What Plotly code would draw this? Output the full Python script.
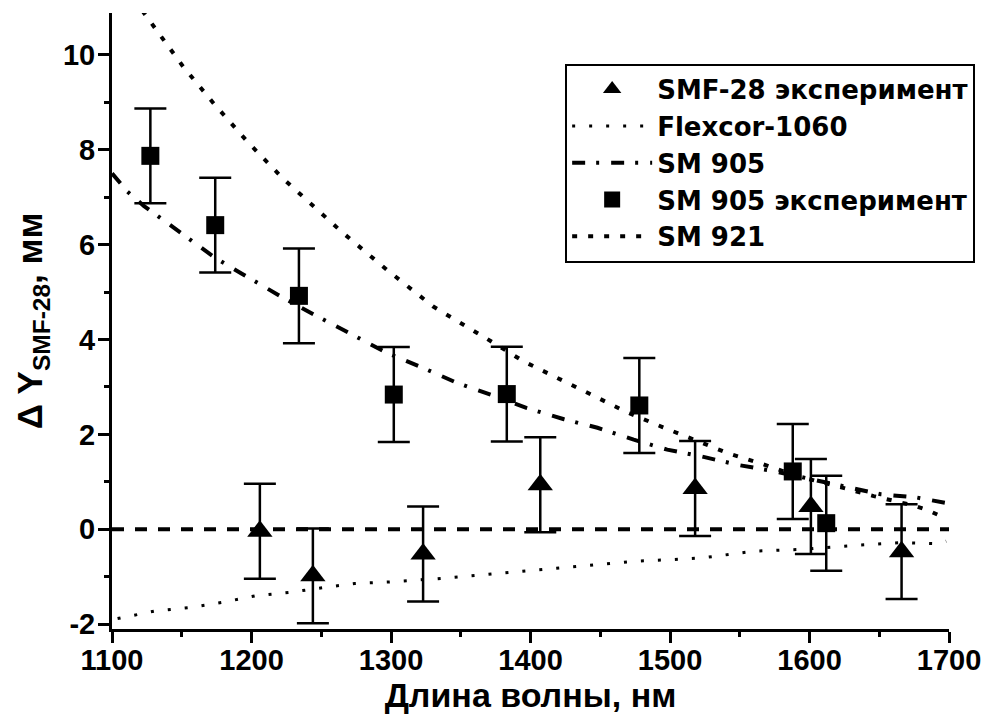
import plotly.graph_objects as go

# SM 905 experiment (squares)
sm905_exp_x = [1127.5, 1174, 1234, 1302, 1383, 1478, 1588, 1612]
sm905_exp_y = [7.87, 6.41, 4.92, 2.84, 2.85, 2.61, 1.22, 0.13]
sm905_exp_err = [1.0, 1.0, 1.0, 1.0, 1.0, 1.0, 1.0, 1.0]

# SMF-28 experiment (triangles)
smf28_exp_x = [1206, 1244, 1323, 1407, 1518, 1601, 1666]
smf28_exp_y = [-0.04, -0.98, -0.52, 0.94, 0.86, 0.48, -0.47]
smf28_exp_err = [1.0, 1.0, 1.0, 1.0, 1.0, 1.0, 1.0]

# SM 921 calculated curve
sm921_x = [1115, 1124, 1151, 1173, 1197, 1223, 1247, 1265, 1297, 1330, 1369, 1395,
           1431, 1469, 1495, 1512, 1541, 1567, 1591, 1612, 1646, 1675, 1685, 1697]
sm921_y = [11.2, 10.84, 9.75, 8.97, 8.17, 7.38, 6.75, 6.26, 5.47, 4.70, 4.01, 3.54,
           3.02, 2.47, 2.15, 1.95, 1.61, 1.37, 1.12, 0.97, 0.70, 0.50, 0.40, 0.24]

# SM 905 calculated curve
sm905_x = [1100, 1111, 1123, 1136, 1149, 1161, 1174, 1194, 1225, 1247, 1278, 1297,
           1323, 1347, 1374, 1397, 1424, 1448, 1474, 1498, 1522, 1550, 1574, 1603,
           1622, 1651, 1677, 1699]
sm905_y = [7.50, 7.12, 6.81, 6.53, 6.25, 6.00, 5.72, 5.37, 4.84, 4.49, 4.00, 3.72,
           3.40, 3.09, 2.81, 2.56, 2.32, 2.14, 1.89, 1.68, 1.54, 1.35, 1.23, 1.04,
           0.91, 0.74, 0.67, 0.55]

# Flexcor-1060 calculated curve
flex_x = [1104, 1131, 1155, 1179, 1203, 1227, 1251, 1274, 1298, 1333, 1369, 1405,
          1441, 1476, 1500, 1524, 1560, 1596, 1632, 1666, 1690, 1698]
flex_y = [-1.88, -1.72, -1.65, -1.54, -1.40, -1.33, -1.23, -1.14, -1.11, -1.04, -0.95, -0.86,
          -0.76, -0.67, -0.64, -0.60, -0.46, -0.42, -0.34, -0.28, -0.30, -0.25]

# SMF-28 reference (zero line)
ref_x = [1100, 1700]
ref_y = [0, 0]

# tick labels
x_tickvals = [1100, 1200, 1300, 1400, 1500, 1600, 1700]
x_ticktext = ["1100", "1200", "1300", "1400", "1500", "1600", "1700"]
y_tickvals = [-2, 0, 2, 4, 6, 8, 10]
y_ticktext = ["-2", "0", "2", "4", "6", "8", "10"]

FONT = "Liberation Sans, Arial, sans-serif"
LEGEND_FONT = "DejaVu Sans, Liberation Sans, sans-serif"

fig = go.Figure()

fig.add_trace(go.Scatter(x=ref_x, y=ref_y, mode="lines", showlegend=False,
                         line=dict(color="black", width=4, dash="12px,11px")))
fig.add_trace(go.Scatter(x=flex_x, y=flex_y, mode="lines", name="Flexcor-1060", legendrank=2,
                         line=dict(color="black", width=3, dash="3px,14px")))
fig.add_trace(go.Scatter(x=sm905_x, y=sm905_y, mode="lines", name="SM 905", legendrank=3,
                         line=dict(color="black", width=4, dash="13px,11px,3px,12px")))
fig.add_trace(go.Scatter(x=sm921_x, y=sm921_y, mode="lines", name="SM 921", legendrank=5,
                         line=dict(color="black", width=4, dash="5px,11px")))

# error bars (no legend)
fig.add_trace(go.Scatter(x=sm905_exp_x, y=sm905_exp_y, mode="markers", showlegend=False,
                         marker=dict(size=1, opacity=0),
                         error_y=dict(type="data", array=sm905_exp_err, color="black",
                                      thickness=2.5, width=16)))
fig.add_trace(go.Scatter(x=smf28_exp_x, y=smf28_exp_y, mode="markers", showlegend=False,
                         marker=dict(size=1, opacity=0),
                         error_y=dict(type="data", array=smf28_exp_err, color="black",
                                      thickness=2.5, width=16)))

fig.add_trace(go.Scatter(x=smf28_exp_x, y=smf28_exp_y, mode="markers",
                         name="SMF-28 эксперимент", legendrank=1,
                         marker=dict(symbol="triangle-up", size=22, color="black")))
fig.add_trace(go.Scatter(x=sm905_exp_x, y=sm905_exp_y, mode="markers",
                         name="SM 905 эксперимент", legendrank=4,
                         marker=dict(symbol="square", size=18, color="black")))

axis_common = dict(
    showline=True, linecolor="black", linewidth=3,
    ticks="outside", ticklen=11, tickwidth=3, tickcolor="black",
    showgrid=False, zeroline=False, mirror=False,
    tickfont=dict(family=FONT, size=29, color="black", weight="bold"),
)

fig.update_xaxes(range=[1100, 1700], tickvals=x_tickvals, ticktext=x_ticktext,
                 ticklabelstandoff=-8,
                 minor=dict(ticks="outside", ticklen=5, tickwidth=3, tickcolor="black", dtick=50),
                 title=dict(text="Длина волны, нм", font=dict(family=FONT, size=34, color="black", weight="bold"),
                            standoff=9),
                 **axis_common)
fig.update_yaxes(range=[-2.1, 10.88], tickvals=y_tickvals, ticktext=y_ticktext,
                 ticklabelstandoff=-3,
                 minor=dict(ticks="outside", ticklen=5, tickwidth=3, tickcolor="black", dtick=1),
                 title=dict(text="Δ Y<sub>SMF-28</sub>, мм", font=dict(family=FONT, size=35, color="black", weight="bold"),
                            standoff=10),
                 **axis_common)

fig.update_layout(
    width=983, height=718,
    margin=dict(l=104, r=42, t=5, b=97, autoexpand=False),
    paper_bgcolor="white", plot_bgcolor="white",
    legend=dict(x=0.5414, y=0.9177, xanchor="left", yanchor="top",
                bgcolor="white", bordercolor="black", borderwidth=2,
                itemwidth=80,
                font=dict(family=LEGEND_FONT, size=26, color="black", weight="bold")),
)

fig.write_html("out.html")
